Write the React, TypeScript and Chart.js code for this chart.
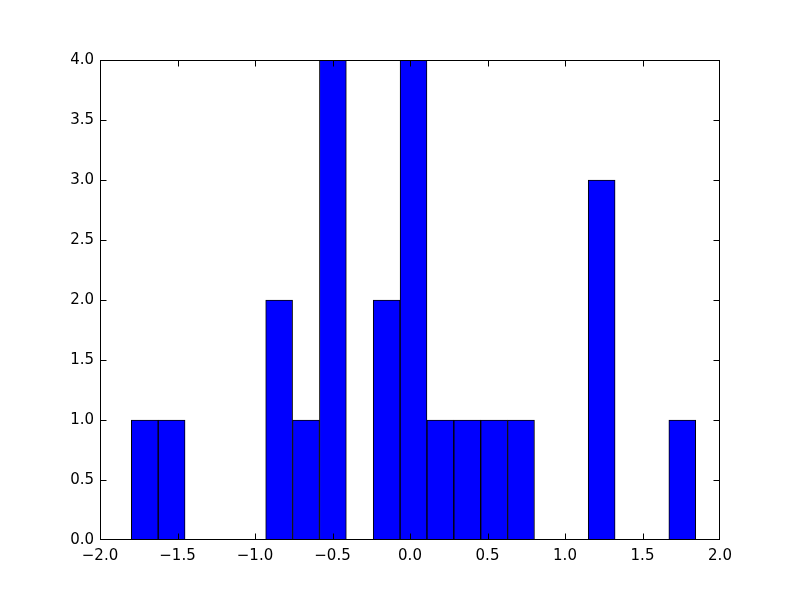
import React, { useEffect, useRef } from "react";
import { Chart, registerables } from "chart.js";

Chart.register(...registerables);

// Histogram bin centres (bin width ≈ 0.1734) and counts
const binCenters = [
  -1.7113, -1.5379, -1.3645, -1.1911, -1.0177, -0.8443, -0.6709, -0.4975,
  -0.3241, -0.1507, 0.0227, 0.1961, 0.3695, 0.5429, 0.7163, 0.8897,
  1.0631, 1.2365, 1.4099, 1.5833, 1.7567,
];
const counts = [1, 1, 0, 0, 0, 2, 1, 4, 0, 2, 4, 1, 1, 1, 1, 0, 0, 3, 0, 0, 1];

const xMin = -2.0;
const xMax = 2.0;
const xStep = 0.5;
const yMin = 0;
const yMax = 4.0;
const yStep = 0.5;

const FONT = "'DejaVu Sans', sans-serif";

const fmt = (v: number) => v.toFixed(1).replace("-", "\u2212");

const innerTicks = {
  id: "innerTicks",
  afterDraw(chart: any) {
    const { ctx, chartArea, scales } = chart;
    const x = scales.x;
    const y = scales.y;
    const L0 = Math.round(chartArea.left) + 0.5;
    const R0 = Math.round(chartArea.right) - 0.5;
    const T0 = Math.round(chartArea.top) + 0.5;
    const B0 = Math.round(chartArea.bottom) - 0.5;
    const L = 6;
    ctx.save();
    ctx.strokeStyle = "#000";
    ctx.lineWidth = 1;
    ctx.beginPath();
    x.ticks.forEach((t: any) => {
      let px = Math.round(x.getPixelForValue(t.value)) + 0.5;
      px = Math.min(Math.max(px, L0), R0);
      ctx.moveTo(px, B0);
      ctx.lineTo(px, B0 - L);
      ctx.moveTo(px, T0);
      ctx.lineTo(px, T0 + L);
    });
    y.ticks.forEach((t: any) => {
      let py = Math.round(y.getPixelForValue(t.value)) + 0.5;
      py = Math.min(Math.max(py, T0), B0);
      ctx.moveTo(L0, py);
      ctx.lineTo(L0 + L, py);
      ctx.moveTo(R0, py);
      ctx.lineTo(R0 - L, py);
    });
    ctx.stroke();
    ctx.strokeRect(L0, T0, R0 - L0, B0 - T0);
    ctx.restore();
  },
};

export default function App() {
  const ref = useRef<HTMLCanvasElement | null>(null);

  useEffect(() => {
    document.body.style.margin = "0";
    const canvas = ref.current;
    if (!canvas) return;
    const chart = new Chart(canvas, {
      type: "bar",
      data: {
        datasets: [
          {
            data: binCenters.map((c, i) => ({ x: c, y: counts[i] })),
            backgroundColor: "#0000ff",
            borderColor: "#000000",
            borderWidth: 1,
            barPercentage: 1.0,
            categoryPercentage: 1.0,
          },
        ],
      },
      options: {
        animation: false,
        responsive: false,
        devicePixelRatio: 1,
        layout: { padding: { top: 60, right: 80, left: 0, bottom: 0 } },
        plugins: {
          legend: { display: false },
          tooltip: { enabled: false },
        },
        scales: {
          x: {
            type: "linear",
            min: xMin,
            max: xMax,
            offset: false,
            grid: { display: false, drawTicks: false },
            border: { display: false },
            ticks: {
              stepSize: xStep,
              padding: 7,
              color: "#000",
              font: { family: FONT, size: 15 },
              maxRotation: 0,
              autoSkip: false,
              callback: (v: any) => fmt(Number(v)),
            },
            afterFit: (s: any) => {
              s.height = 60;
            },
          },
          y: {
            type: "linear",
            min: yMin,
            max: yMax,
            grid: { display: false, drawTicks: false },
            border: { display: false },
            ticks: {
              stepSize: yStep,
              padding: 6,
              color: "#000",
              font: { family: FONT, size: 15 },
              autoSkip: false,
              callback: (v: any) => fmt(Number(v)),
            },
            afterFit: (s: any) => {
              s.width = 100;
            },
          },
        },
      },
      plugins: [innerTicks],
    });
    return () => chart.destroy();
  }, []);

  return (
    <div style={{ width: 800, height: 600, background: "#fff" }}>
      <canvas ref={ref} width={800} height={600} />
    </div>
  );
}
